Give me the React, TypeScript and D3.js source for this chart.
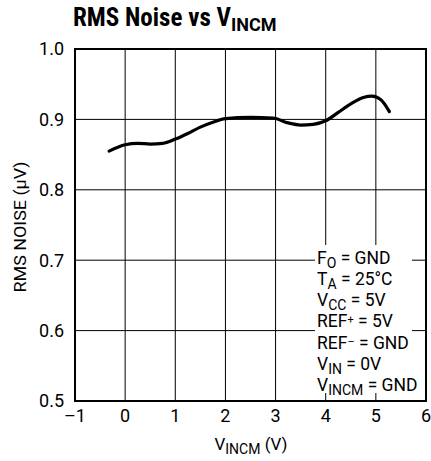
import React from "react";
import * as d3 from "d3";

const vincm = [-0.32, 0, 0.25, 0.5, 0.75, 1.0, 1.25, 1.5, 1.75, 2.0, 2.5, 2.95, 3.25, 3.5, 3.75, 4.0, 4.25, 4.5, 4.75, 4.92, 5.1, 5.27];
const noise = [0.855, 0.864, 0.866, 0.865, 0.866, 0.872, 0.880, 0.889, 0.896, 0.901, 0.903, 0.902, 0.895, 0.892, 0.893, 0.898, 0.910, 0.922, 0.931, 0.933, 0.928, 0.911];
const xTicks = [-1, 0, 1, 2, 3, 4, 5, 6];
const yTicks = [0.5, 0.6, 0.7, 0.8, 0.9, 1.0];

const FONT = "Roboto, 'Liberation Sans', sans-serif";
const TFONT = "'Roboto Condensed', Roboto, 'Liberation Sans Narrow', sans-serif";

export default function App() {
  const W = 431, H = 461;
  const L = 75, R = 426, T = 49, B = 401;
  const x = d3.scaleLinear().domain([-1, 6]).range([L, R]);
  const y = d3.scaleLinear().domain([0.5, 1.0]).range([B, T]);
  const pts = vincm.map((v, i) => [v, noise[i]] as [number, number]);
  const line = d3.line<[number, number]>().x(d => x(d[0])).y(d => y(d[1])).curve(d3.curveMonotoneX);

  const rowTop = 250, rowStep = 21.3, fs = 17.5, sub = 14;
  const rows: React.ReactNode[] = [
    <>F<tspan fontSize={sub} dy={4}>O</tspan><tspan dy={-4}> = GND</tspan></>,
    <>T<tspan fontSize={sub} dy={4}>A</tspan><tspan dy={-4}> = 25°C</tspan></>,
    <>V<tspan fontSize={sub} dy={4}>CC</tspan><tspan dy={-4}> = 5V</tspan></>,
    <>REF<tspan fontSize={11} dy={-4}>+</tspan><tspan dy={4}> = 5V</tspan></>,
    <>REF<tspan fontSize={11} dy={-4}>–</tspan><tspan dy={4}> = GND</tspan></>,
    <>V<tspan fontSize={sub} dy={4}>IN</tspan><tspan dy={-4}> = 0V</tspan></>,
    <>V<tspan fontSize={sub} dy={4}>INCM</tspan><tspan dy={-4}> = GND</tspan></>,
  ];

  return (
    <svg width={W} height={H} style={{ position: "absolute", left: 0, top: 0, background: "#fff" }} fontFamily={FONT}>
      <rect x={0} y={0} width={W} height={H} fill="#fff" />
      {xTicks.map(t => (
        <line key={"gx" + t} x1={x(t)} x2={x(t)} y1={T} y2={B} stroke="#000" strokeWidth={1} />
      ))}
      {yTicks.map(t => (
        <line key={"gy" + t} x1={L} x2={R} y1={y(t)} y2={y(t)} stroke="#000" strokeWidth={1} />
      ))}
      <rect x={315} y={245} width={97} height={148} fill="#fff" />
      <rect x={L} y={T} width={R - L} height={B - T} fill="none" stroke="#000" strokeWidth={2} />
      <path d={line(pts) || ""} fill="none" stroke="#000" strokeWidth={3.2} strokeLinecap="round" />
      {yTicks.map(t => (
        <text key={"ty" + t} x={64} y={y(t)} dy="0.36em" textAnchor="end" fontSize={18}>{t.toFixed(1)}</text>
      ))}
      {xTicks.map(t => (
        <text key={"tx" + t} x={x(t)} y={422} textAnchor="middle" fontSize={18}>{t < 0 ? "–" + Math.abs(t) : t}</text>
      ))}
      {rows.map((r, i) => (
        <text key={"r" + i} x={317} y={rowTop + 13.5 + i * rowStep} fontSize={fs}>{r}</text>
      ))}
      <text x={251} y={450} textAnchor="middle" fontSize={17}>
        V<tspan fontSize={14} dy={4}>INCM</tspan><tspan dy={-4}> (V)</tspan>
      </text>
      <text transform={`translate(26,227) rotate(-90)`} textAnchor="middle" fontSize={16} textLength={131} lengthAdjust="spacingAndGlyphs">RMS NOISE (µV)</text>
      <text x={73} y={26} fontSize={25} fontWeight="bold" fontFamily={TFONT}>
        RMS Noise vs V<tspan fontSize={18} dy={5} fontFamily={FONT}>INCM</tspan>
      </text>
    </svg>
  );
}
